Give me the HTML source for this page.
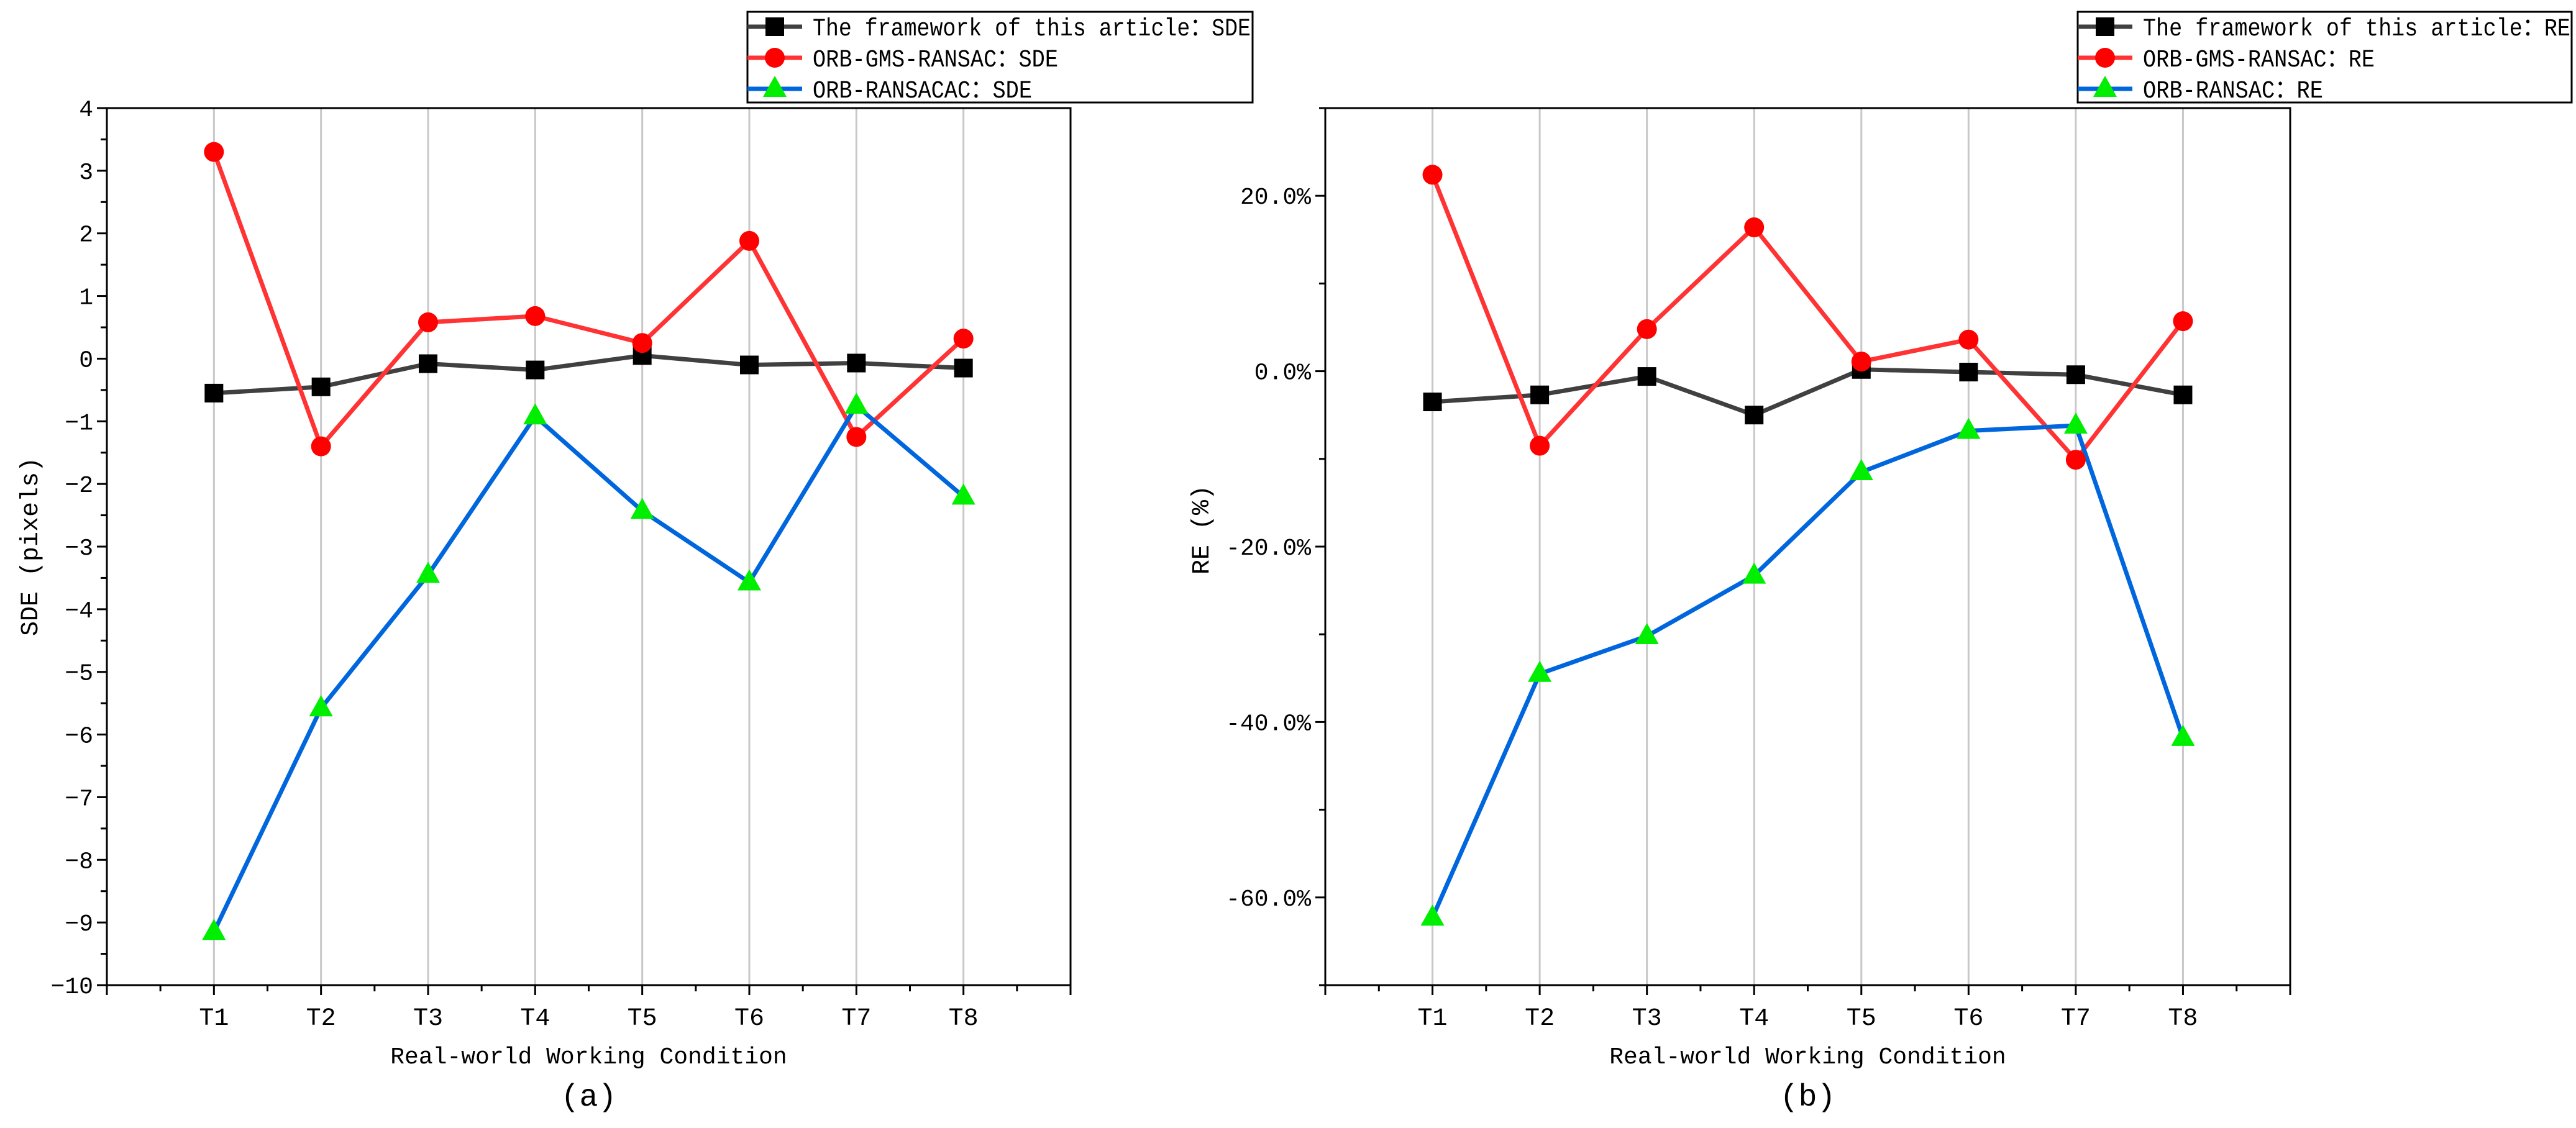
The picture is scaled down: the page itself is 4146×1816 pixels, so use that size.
<!DOCTYPE html>
<html><head><meta charset="utf-8"><style>
body{margin:0;background:#fff}
svg{display:block}
text{font-family:"Liberation Mono","Noto Sans CJK SC",monospace;fill:#000}
</style></head><body>
<svg id="c" width="4146" height="1816" viewBox="0 0 4146 1816" xmlns="http://www.w3.org/2000/svg"></svg>
<script>
const categories=["T1","T2","T3","T4","T5","T6","T7","T8"];
const sdeOurs=[-0.55,-0.45,-0.08,-0.18,0.05,-0.1,-0.07,-0.15];
const sdeGms=[3.3,-1.4,0.58,0.68,0.25,1.88,-1.25,0.32];
const sdeRansac=[-9.15,-5.58,-3.45,-0.92,-2.43,-3.57,-0.75,-2.2];
const reOurs=[-3.5,-2.7,-0.6,-5,0.2,-0.1,-0.4,-2.7];
const reGms=[22.4,-8.5,4.8,16.4,1.1,3.6,-10.1,5.7];
const reRansac=[-62.3,-34.5,-30.2,-23.3,-11.5,-6.8,-6.2,-41.8];
const sdeTicks=[4,3,2,1,0,-1,-2,-3,-4,-5,-6,-7,-8,-9,-10];
const reTicks=[20,0,-20,-40,-60];
const legendA=["The framework of this article：SDE","ORB-GMS-RANSAC：SDE","ORB-RANSACAC：SDE"];
const legendB=["The framework of this article：RE","ORB-GMS-RANSAC：RE","ORB-RANSAC：RE"];

const NS="http://www.w3.org/2000/svg";
const svg=document.getElementById('c');
function mk(tag,attrs,parent){const e=document.createElementNS(NS,tag);for(const k in attrs)e.setAttribute(k,attrs[k]);(parent||svg).appendChild(e);return e;}
const colors=["#404040","#ff3333","#0066dd"];

function marker(g,type,x,y){
  let m;
  if(type===0){m=mk('rect',{x:x-15,y:y-15,width:30,height:30,fill:'#000'},g);}
  else if(type===1){m=mk('circle',{cx:x,cy:y,r:16,fill:'#ff0000'},g);}
  else {m=mk('polygon',{points:`${x},${y-21} ${x-19},${y+13} ${x+19},${y+13}`,fill:'#00ee00'},g);}
  
  
}

function chart(o){
  const g=mk('g',{});
  
  
  const L=o.left,R=o.right,T=174,B=1586;
  const step=(R-L)/9;
  const xs=i=>L+step*(i+1);
  const ys=v=>T+(o.max-v)/(o.max-o.min)*(B-T);
  categories.forEach((c,i)=>{
    const gl=mk('line',{x1:xs(i),x2:xs(i),y1:T,y2:B,stroke:'#c8c8c8','stroke-width':3},g);
    
    
  });
  const fr=mk('rect',{x:L,y:T,width:R-L,height:B-T,fill:'none',stroke:'#000','stroke-width':3},g);
  
  
  for(let k=0;k<=18;k++){
    const x=L+step*k/2;
    mk('line',{x1:x,x2:x,y1:B,y2:B+(k%2?10:16),stroke:'#000','stroke-width':3},g);
  }
  categories.forEach((c,i)=>{
    const t=mk('text',{x:xs(i),y:1650,'font-size':40,'text-anchor':'middle'},g);
    t.textContent=c;
    
    
  });
  for(let v=o.min;v<=o.max+1e-9;v+=o.minor){
    const y=ys(v);const major=Math.abs(Math.round(v/o.major)*o.major-v)<1e-6;
    mk('line',{x1:L,x2:L-(major?16:10),y1:y,y2:y,stroke:'#000','stroke-width':3},g);
  }
  o.ticks.forEach(v=>{
    const t=mk('text',{x:o.tickX,y:ys(v)+13,'font-size':38,'text-anchor':'end'},g);
    t.textContent=o.fmt(v);
    
    
  });
  const xt=mk('text',{x:(L+R)/2,y:1712,'font-size':38,'text-anchor':'middle'},g);
  xt.textContent="Real-world Working Condition";
  
  
  const yt=mk('text',{x:0,y:0,'font-size':40,'text-anchor':'middle',transform:`translate(${o.ytX},${o.ytY}) rotate(-90)`},g);
  yt.textContent=o.ytitle;
  
  
  const cap=mk('text',{x:(L+R)/2,y:1780,'font-size':50,'text-anchor':'middle','font-family':'Liberation Serif, serif'},g);
  cap.textContent=o.caption;
  
  
  o.series.forEach((s,si)=>{
    const pts=s.map((v,i)=>xs(i)+','+ys(v)).join(' ');
    const pl=mk('polyline',{points:pts,fill:'none',stroke:colors[si],'stroke-width':7},g);
    
    
  });
  o.series.forEach((s,si)=>s.forEach((v,i)=>marker(g,si,xs(i),ys(v))));
  const lg=mk('g',{},g);
  
  
  mk('rect',{x:o.legX,y:19,width:o.legW,height:146,fill:'#fff',stroke:'#000','stroke-width':3},lg);
  o.legend.forEach((txt,i)=>{
    const y=43+i*50;
    mk('line',{x1:o.legX,x2:o.legX+88,y1:y,y2:y,stroke:colors[i],'stroke-width':7},lg);
    marker(lg,i,o.legX+44,y);
    const t=mk('text',{x:o.legX+105,y:y+14,'font-size':40},lg);
    t.textContent=txt;
    t.setAttribute('textLength',o.legLen[i]);
    t.setAttribute('lengthAdjust','spacingAndGlyphs');
    
    
  });
}

chart({name:'chart-a-sde',left:172,right:1723,min:-10,max:4,major:1,minor:0.5,ticks:sdeTicks,
  fmt:v=>v<0?'−'+(-v):String(v),tickX:150,ytitle:'SDE (pixels)',ytX:60,ytY:880,caption:'(a)',
  series:[sdeOurs,sdeGms,sdeRansac],legend:legendA,legX:1203,legW:813,legLen:[705,395,353]});
chart({name:'chart-b-re',left:2133,right:3686,min:-70,max:30,major:20,minor:10,ticks:reTicks,
  fmt:v=>v.toFixed(1)+'%',tickX:2110,ytitle:'RE (%)',ytX:1945,ytY:853,caption:'(b)',
  series:[reOurs,reGms,reRansac],legend:legendB,legX:3344,legW:795,legLen:[688,373,290]});
</script>
</body></html>
